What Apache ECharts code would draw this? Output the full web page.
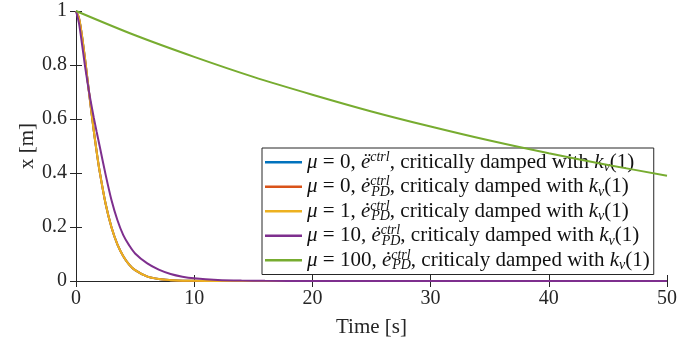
<!DOCTYPE html>
<html>
<head>
<meta charset="utf-8">
<script src="https://cdn.jsdelivr.net/npm/echarts@6/dist/echarts.min.js"></script>
<style>html,body{margin:0;padding:0;background:#fff}#c{width:699px;height:345px}</style>
</head>
<body>
<div id="c"></div>
<script>
// ---- data ----
const tFast = [0,0.25,0.5,0.75,1,1.25,1.5,1.75,2,2.5,3,3.5,4,4.5,5,6,7,8,9,10,12,14,16,20,30,40,50];
const xMu0Ddot = [1,0.974,0.91,0.827,0.736,0.645,0.558,0.478,0.406,0.287,0.199,0.136,0.092,0.061,0.04,0.017,0.007,0.003,0.001,0.0005,0.0001,0,0,0,0,0,0];
const xMu0PD   = [1,0.974,0.91,0.827,0.736,0.645,0.558,0.478,0.406,0.287,0.199,0.136,0.092,0.061,0.04,0.017,0.007,0.003,0.001,0.0005,0.0001,0,0,0,0,0,0];
const xMu1PD   = [1,0.974,0.91,0.827,0.736,0.645,0.558,0.478,0.406,0.287,0.199,0.136,0.092,0.061,0.04,0.017,0.007,0.003,0.001,0.0005,0.0001,0,0,0,0,0,0];
const xMu10PD  = [1,0.955,0.88,0.8,0.728,0.664,0.606,0.552,0.5,0.395,0.3,0.226,0.17,0.132,0.102,0.066,0.042,0.026,0.016,0.01,0.004,0.0015,0.0005,0.0001,0,0,0];
const tSlow = [0,5,10,15,20,25,30,35,40,45,50];
const xMu100PD = [1,0.91,0.83,0.756,0.69,0.628,0.572,0.52,0.473,0.43,0.39];
const xTicks = ['0','10','20','30','40','50'];
const yTicks = ['0','0.2','0.4','0.6','0.8','1'];
const seriesNames = ['s1','s2','s3','s4','s5'];
const legendTexts = [
  '{mi|μ} = 0, {mi|ë}{sup|ctrl}, critically damped with {mi|k}{sub|v}(1)',
  '{mi|μ} = 0, {mi|ė}{supz|ctrl}{sub|PD}, criticaly damped with {mi|k}{sub|v}(1)',
  '{mi|μ} = 1, {mi|ė}{supz|ctrl}{sub|PD}, criticaly damped with {mi|k}{sub|v}(1)',
  '{mi|μ} = 10, {mi|ė}{supz|ctrl}{sub|PD}, criticaly damped with {mi|k}{sub|v}(1)',
  '{mi|μ} = 100, {mi|ė}{supz|ctrl}{sub|PD}, criticaly damped with {mi|k}{sub|v}(1)'
];
const colors = ['#0072BD','#D95319','#EDB120','#7E2F8E','#77AC30'];

const F = 'Liberation Serif';
const AX = '#262626';
const pairs = (t, v) => t.map((x, i) => [x, v[i]]);
const dataSets = [pairs(tFast,xMu0Ddot), pairs(tFast,xMu0PD), pairs(tFast,xMu1PD), pairs(tFast,xMu10PD), pairs(tSlow,xMu100PD)];

const chart = echarts.init(document.getElementById('c'));
const baseAxis = {
  axisLine: {show: true, lineStyle: {color: AX, width: 1}},
  axisTick: {show: true, inside: true, length: 6, lineStyle: {color: AX}},
  splitLine: {show: false}
};
const LS = 21, SS = 14;
chart.setOption({
  animation: false,
  backgroundColor: '#fff',
  grid: {left: 76, right: 32, top: 11, bottom: 64},
  xAxis: [
    Object.assign({}, baseAxis, {type: 'value', min: 0, max: 50, interval: 10, position: 'bottom',
      axisLabel: {color: AX, fontFamily: F, fontSize: 20, margin: 8, formatter: (v) => xTicks[Math.round(v/10)]},
      name: 'Time [s]', nameLocation: 'middle', nameGap: 36, nameMoveOverlap: false,
      nameTextStyle: {color: AX, fontFamily: F, fontSize: 21}}),
    Object.assign({}, baseAxis, {type: 'value', min: 0, max: 50, interval: 10, position: 'top', axisLabel: {show: false}})
  ],
  yAxis: [
    Object.assign({}, baseAxis, {type: 'value', min: 0, max: 1, interval: 0.2, position: 'left',
      axisLabel: {color: AX, fontFamily: F, fontSize: 20, margin: 9, formatter: (v) => yTicks[Math.round(v*5)]},
      name: 'x [m]', nameLocation: 'middle', nameGap: 38, nameRotate: 90, nameMoveOverlap: false,
      nameTextStyle: {color: AX, fontFamily: F, fontSize: 21}}),
    Object.assign({}, baseAxis, {type: 'value', min: 0, max: 1, interval: 0.2, position: 'right', axisLabel: {show: false}})
  ],
  legend: {
    left: 262, top: 148, orient: 'vertical', z: 1, zlevel: 0,
    data: seriesNames,
    icon: 'rect', itemWidth: 37, itemHeight: 2.5, itemGap: 0,
    padding: [2, 4, 2, 3],
    backgroundColor: 'rgba(255,255,255,0)', borderColor: AX, borderWidth: 1, borderRadius: 0,
    formatter: (name) => legendTexts[seriesNames.indexOf(name)],
    textStyle: {
      fontFamily: F, fontSize: LS, color: '#111', lineHeight: 24.5, padding: [0,0,0,0],
      rich: {
        mi: {fontFamily: F, fontSize: LS, fontStyle: 'italic', color: '#111'},
        sup: {fontFamily: F, fontSize: SS, fontStyle: 'italic', color: '#111', verticalAlign: 'top', lineHeight: 12},
        supz: {fontFamily: F, fontSize: SS, fontStyle: 'italic', color: '#111', verticalAlign: 'top', lineHeight: 12, width: 1, align: 'left'},
        sub: {fontFamily: F, fontSize: SS, fontStyle: 'italic', color: '#111', verticalAlign: 'bottom', lineHeight: 15}
      }
    }
  },
  series: dataSets.map((d, i) => ({
    name: seriesNames[i], type: 'line', data: d, xAxisIndex: 0, yAxisIndex: 0,
    showSymbol: false, symbol: 'none', smooth: 0.3,
    lineStyle: {color: colors[i], width: 2}, itemStyle: {color: colors[i]}, z: 2 + i
  }))
});
</script>
</body>
</html>
